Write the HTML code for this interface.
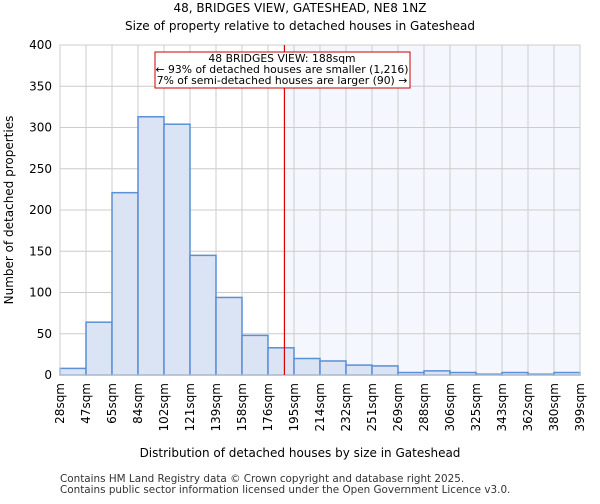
<!DOCTYPE html>
<html><head><meta charset="utf-8"><style>
body{margin:0;background:#fff;font-family:"DejaVu Sans","Liberation Sans",sans-serif}
</style></head><body>
<svg id="chart" width="600" height="500" xmlns="http://www.w3.org/2000/svg" font-family="DejaVu Sans, Liberation Sans, sans-serif">
<text x="300" y="12" text-anchor="middle" font-size="12">48, BRIDGES VIEW, GATESHEAD, NE8 1NZ</text>
<text x="300" y="30" text-anchor="middle" font-size="12">Size of property relative to detached houses in Gateshead</text>
<g id="plot"></g>
<text x="300" y="457" text-anchor="middle" font-size="12">Distribution of detached houses by size in Gateshead</text>
<text transform="translate(13,210) rotate(-90)" text-anchor="middle" font-size="12">Number of detached properties</text>
<text x="60" y="482" font-size="10.4" fill="#333">Contains HM Land Registry data © Crown copyright and database right 2025.</text>
<text x="60" y="493" font-size="10.4" fill="#333">Contains public sector information licensed under the Open Government Licence v3.0.</text>
</svg>
<script>
const binLabels=["28sqm","47sqm","65sqm","84sqm","102sqm","121sqm","139sqm","158sqm","176sqm","195sqm","214sqm","232sqm","251sqm","269sqm","288sqm","306sqm","325sqm","343sqm","362sqm","380sqm","399sqm"];
const binEdges=[28,47,65,84,102,121,139,158,176,195,214,232,251,269,288,306,325,343,362,380,399];
const counts=[8,64,221,313,304,145,94,48,33,20,17,12,11,3,5,3,1,3,1,3];
const yTicks=[0,50,100,150,200,250,300,350,400];
const propertySize=188;
const NS="http://www.w3.org/2000/svg";
const L=60,R=580,T=45,B=375,yMax=400;
const n=counts.length;
const xIdx=i=>L+(R-L)*i/n;
const xVal=v=>{for(let i=0;i<binEdges.length-1;i++){if(v<=binEdges[i+1])return xIdx(i)+(v-binEdges[i])/(binEdges[i+1]-binEdges[i])*(R-L)/n;}return R;};
const y=v=>B-(B-T)*v/yMax;
const g=document.getElementById('plot');
function mk(t,a){const e=document.createElementNS(NS,t);for(const k in a)e.setAttribute(k,a[k]);g.appendChild(e);return e;}
const px=xVal(propertySize);
let e=mk('rect',{x:px,y:T,width:R-px,height:B-T,fill:'#f4f7fd'});


yTicks.forEach(t=>{
 let l=mk('line',{x1:L,x2:R,y1:y(t),y2:y(t),stroke:'#ccc','stroke-width':1});
 
 
 let tx=mk('text',{x:L-8,y:y(t)+4,'text-anchor':'end','font-size':12});
 tx.textContent=t;
 
 
});
binLabels.forEach((lab,i)=>{
 const xx=xIdx(i);
 let l=mk('line',{x1:xx,x2:xx,y1:T,y2:B,stroke:'#ccc','stroke-width':1});
 
 
 let tx=mk('text',{transform:`translate(${xx+4},${B+8}) rotate(-90)`,'text-anchor':'end','font-size':12});
 tx.textContent=lab;
 
 
});
counts.forEach((c,i)=>{
 let r=mk('rect',{x:xIdx(i),y:y(c),width:(R-L)/n,height:B-y(c),fill:'#dae4f4',stroke:'#5b8fd6','stroke-width':1.5});
 
 
});
let ax=mk('rect',{x:L,y:T,width:R-L,height:B-T,fill:'none',stroke:'#ccc'});


let rl=mk('line',{x1:px,x2:px,y1:T,y2:B,stroke:'#d00','stroke-width':1.2});


let box=mk('rect',{x:155,y:52,width:255,height:36,fill:'#fff',stroke:'#c00','stroke-width':1});


["48 BRIDGES VIEW: 188sqm","← 93% of detached houses are smaller (1,216)","7% of semi-detached houses are larger (90) →"].forEach((s,i)=>{
 let t=mk('text',{x:282,y:62+i*11,'text-anchor':'middle','font-size':10.8});
 t.textContent=s;
 
 
});
</script>
</body></html>
